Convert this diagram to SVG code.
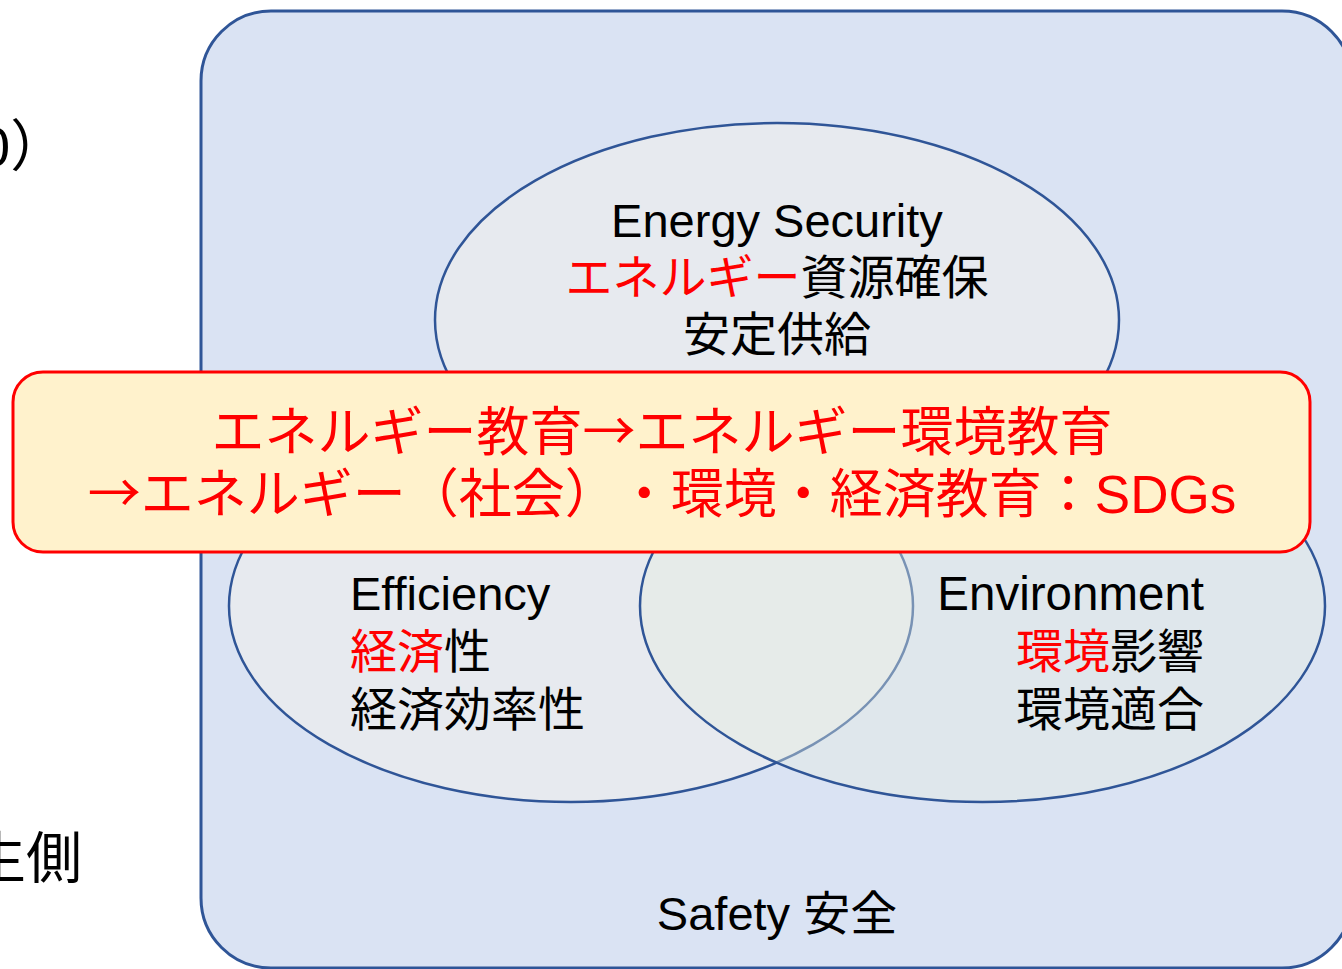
<svg xmlns="http://www.w3.org/2000/svg" width="1342" height="969" viewBox="0 0 1342 969">
<style>
.t{font-family:"Liberation Sans","Noto Sans CJK JP",sans-serif;font-size:47px;fill:#000;text-spacing-trim:space-all}
.r{fill:#FF0000}
.b{font-family:"Liberation Sans","Noto Sans CJK JP",sans-serif;font-size:53px;fill:#FF0000;text-spacing-trim:space-all;font-kerning:none}
.cjk{font-family:"Noto Sans CJK JP",sans-serif}
.ell{stroke:#2F5597;stroke-width:2.5}
</style>
<rect width="1342" height="969" fill="#FFFFFF"/>
<g id="side-text">
<text class="t" x="-21" y="166" style="font-size:56px">0）</text>
<text class="t" x="-30" y="878" style="font-size:56px">生側</text>
</g>
<g id="safety">
<rect x="201" y="11" width="1151" height="957" rx="70" ry="70" fill="#DAE3F3" stroke="#2F5597" stroke-width="3"/>
<text class="t" x="777" y="930" text-anchor="middle">Safety 安全</text>
</g>
<g id="energy-security">
<ellipse class="ell" cx="777" cy="320" rx="342" ry="197" fill="#EDEDED" fill-opacity="0.7"/>
<text class="t" x="777" y="237" text-anchor="middle">Energy Security</text>
<text class="t" x="777" y="294" text-anchor="middle"><tspan class="r">エネルギー</tspan>資源確保</text>
<text class="t" x="777" y="351" text-anchor="middle">安定供給</text>
</g>
<g id="efficiency">
<ellipse class="ell" cx="571" cy="606" rx="342" ry="196" fill="#EDEDED" fill-opacity="0.7"/>
<text class="t" x="350" y="610">Efficiency</text>
<text class="t" x="350" y="668"><tspan class="r">経済</tspan>性</text>
<text class="t" x="350" y="726">経済効率性</text>
</g>
<g id="environment">
<ellipse class="ell" cx="982.5" cy="606" rx="342.5" ry="196" fill="#E6EDE0" fill-opacity="0.4"/>
<text class="t" x="1204" y="610" text-anchor="end" style="font-size:47.5px">Environment</text>
<text class="t" x="1204" y="668" text-anchor="end"><tspan class="r">環境</tspan>影響</text>
<text class="t" x="1204" y="726" text-anchor="end">環境適合</text>
</g>
<g id="banner">
<rect x="13" y="372" width="1297" height="180" rx="30" ry="30" fill="#FFF2CC" stroke="#FF0000" stroke-width="3"/>
<text class="b" x="662" y="451" text-anchor="middle">エネルギー教育<tspan class="cjk">→</tspan>エネルギー環境教育</text>
<text class="b" x="662" y="513" text-anchor="middle"><tspan class="cjk">→</tspan>エネルギー（社会）・環境・経済教育：SDGs</text>
</g>
<g id="connectors"></g>
</svg>
